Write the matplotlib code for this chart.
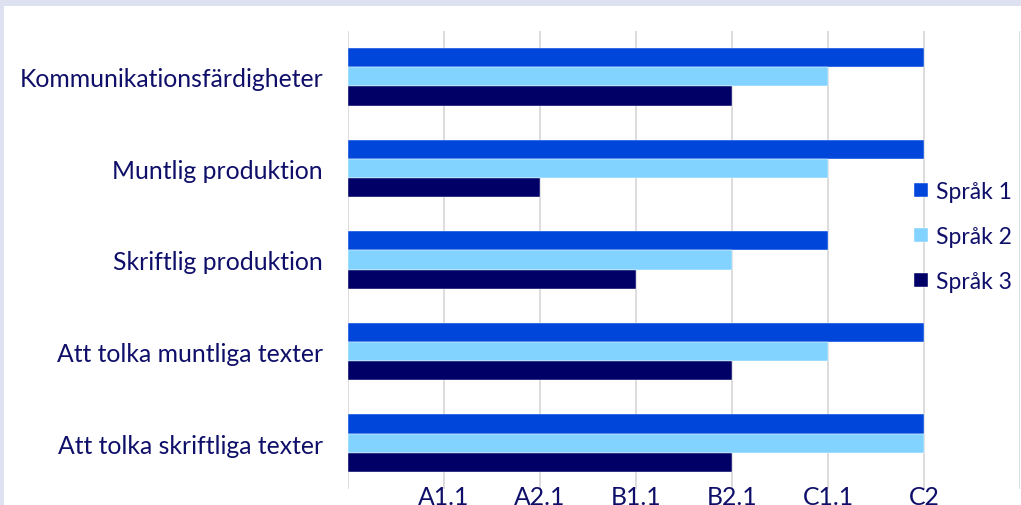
import matplotlib.pyplot as plt
from matplotlib.patches import Rectangle
import numpy as np

categories = ["Kommunikationsfärdigheter", "Muntlig produktion", "Skriftlig produktion",
              "Att tolka muntliga texter", "Att tolka skriftliga texter"]
sprak1 = [6, 6, 5, 6, 6]
sprak2 = [5, 5, 4, 5, 6]
sprak3 = [4, 2, 3, 4, 4]
series_names = ["Språk 1", "Språk 2", "Språk 3"]
tick_labels = ["", "A1.1", "A2.1", "B1.1", "B2.1", "C1.1", "C2", ""]

colors = ["#0046da", "#82d3ff", "#000066"]
text_color = "#0f0f6a"
frame_color = "#dde1f0"

plt.rcParams["font.family"] = ["Lato", "DejaVu Sans"]

fig = plt.figure(figsize=(10.21, 5.06), dpi=100, facecolor="white")
# light frame at the top and left edge
fig.patches.append(Rectangle((0, 1 - 7 / 506), 1, 7 / 506, transform=fig.transFigure,
                             facecolor=frame_color, edgecolor="none"))
fig.patches.append(Rectangle((0, 0), 4 / 1021, 1, transform=fig.transFigure,
                             facecolor=frame_color, edgecolor="none"))

ax = fig.add_axes([348 / 1021, 16 / 506, 672 / 1021, 458 / 506])
ax.set_facecolor("none")

y = np.arange(len(categories))
h = 0.21
for i, vals in enumerate([sprak1, sprak2, sprak3]):
    ax.barh(y + (i - 1) * h, vals, height=h, color=colors[i], label=series_names[i],
            edgecolor="white", linewidth=0.3, zorder=3)

fs = 17.8
ax.set_ylim(len(categories) - 0.5, -0.5)
ax.set_xlim(0, 7)
ax.set_xticks(range(8))
ax.set_xticklabels(tick_labels)
ax.set_yticks(y)
ax.set_yticklabels(categories)
ax.tick_params(axis="y", length=0, pad=18, labelsize=fs, labelcolor=text_color)
ax.tick_params(axis="x", length=0, pad=-3, labelsize=fs, labelcolor=text_color)
ax.grid(axis="x", color="#d9d9d9", linewidth=1.3, zorder=0)
for s in ax.spines.values():
    s.set_visible(False)

leg = ax.legend(loc="upper left", bbox_to_anchor=(566 / 672, 1 - 150 / 458), frameon=False,
                fontsize=16.5, labelcolor=text_color, handlelength=0.62, handleheight=0.62,
                handletextpad=0.35, labelspacing=1.05, borderaxespad=0, borderpad=0)

fig.savefig("out.png", dpi=100, facecolor=fig.get_facecolor())
